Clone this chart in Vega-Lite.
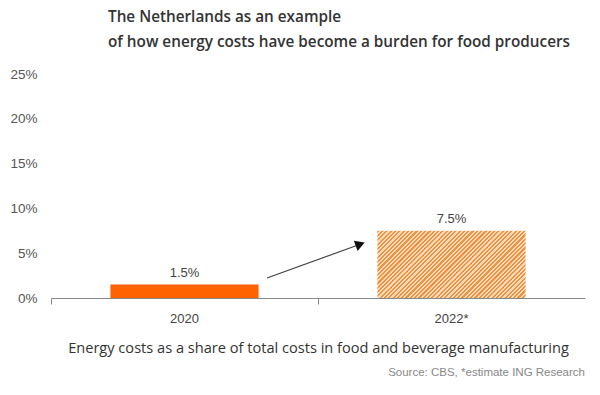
{
  "$schema": "https://vega.github.io/schema/vega-lite/v6.json",
  "width": 534,
  "height": 224,
  "autosize": "none",
  "padding": {"left": 51, "top": 74, "right": 15, "bottom": 97},
  "background": "white",
  "title": {
    "text": ["The Netherlands as an example", "of how energy costs have become a burden for food producers"],
    "anchor": "start",
    "frame": "group",
    "dx": 57,
    "offset": 17,
    "font": "Open Sans",
    "fontSize": 15.3,
    "fontWeight": 600,
    "color": "#333333",
    "lineHeight": 25
  },
  "config": {
    "view": {"stroke": null},
    "axis": {"grid": false}
  },
  "datasets": {
    "bars": [
      {"year": "2020", "share": 1.5, "label": "1.5%"},
      {"year": "2022*", "share": 7.5, "label": "7.5%"}
    ],
    "arrow": [
      {"px": 0.809, "py": 2.23},
      {"px": 1.158, "py": 6.0}
    ],
    "head": [
      {"px": 1.158, "py": 6.0}
    ],
    "source": [
      {"px": 2, "py": -8.4, "text": "Source: CBS, *estimate ING Research"}
    ]
  },
  "resolve": {"scale": {"x": "independent"}, "axis": {"x": "independent"}},
  "layer": [
    {
      "layer": [
        {
          "data": {"name": "bars"},
          "transform": [{"filter": "datum.year === '2020'"}],
          "mark": {"type": "bar", "color": "#FF6200", "width": {"band": 0.555}},
          "encoding": {
            "x": {"field": "year", "type": "nominal"},
            "y": {"field": "share", "type": "quantitative"}
          }
        },
        {
          "data": {"name": "bars"},
          "transform": [{"filter": "datum.year === '2022*'"}],
          "mark": {
            "type": "bar",
            "width": {"band": 0.555},
            "fill": {
              "gradient": "linear",
              "x1": 0, "y1": 0, "x2": 1.2055, "y2": 0.5466,
              "stops": [
                {"offset": 0.00, "color": "#F0913F"}, {"offset": 0.01, "color": "#F0913F"}, {"offset": 0.01, "color": "#FDDDBE"}, {"offset": 0.02, "color": "#FDDDBE"},
                {"offset": 0.02, "color": "#F0913F"}, {"offset": 0.03, "color": "#F0913F"}, {"offset": 0.03, "color": "#FDDDBE"}, {"offset": 0.04, "color": "#FDDDBE"},
                {"offset": 0.04, "color": "#F0913F"}, {"offset": 0.05, "color": "#F0913F"}, {"offset": 0.05, "color": "#FDDDBE"}, {"offset": 0.06, "color": "#FDDDBE"},
                {"offset": 0.06, "color": "#F0913F"}, {"offset": 0.07, "color": "#F0913F"}, {"offset": 0.07, "color": "#FDDDBE"}, {"offset": 0.08, "color": "#FDDDBE"},
                {"offset": 0.08, "color": "#F0913F"}, {"offset": 0.09, "color": "#F0913F"}, {"offset": 0.09, "color": "#FDDDBE"}, {"offset": 0.10, "color": "#FDDDBE"},
                {"offset": 0.10, "color": "#F0913F"}, {"offset": 0.11, "color": "#F0913F"}, {"offset": 0.11, "color": "#FDDDBE"}, {"offset": 0.12, "color": "#FDDDBE"},
                {"offset": 0.12, "color": "#F0913F"}, {"offset": 0.13, "color": "#F0913F"}, {"offset": 0.13, "color": "#FDDDBE"}, {"offset": 0.14, "color": "#FDDDBE"},
                {"offset": 0.14, "color": "#F0913F"}, {"offset": 0.15, "color": "#F0913F"}, {"offset": 0.15, "color": "#FDDDBE"}, {"offset": 0.16, "color": "#FDDDBE"},
                {"offset": 0.16, "color": "#F0913F"}, {"offset": 0.17, "color": "#F0913F"}, {"offset": 0.17, "color": "#FDDDBE"}, {"offset": 0.18, "color": "#FDDDBE"},
                {"offset": 0.18, "color": "#F0913F"}, {"offset": 0.19, "color": "#F0913F"}, {"offset": 0.19, "color": "#FDDDBE"}, {"offset": 0.20, "color": "#FDDDBE"},
                {"offset": 0.20, "color": "#F0913F"}, {"offset": 0.21, "color": "#F0913F"}, {"offset": 0.21, "color": "#FDDDBE"}, {"offset": 0.22, "color": "#FDDDBE"},
                {"offset": 0.22, "color": "#F0913F"}, {"offset": 0.23, "color": "#F0913F"}, {"offset": 0.23, "color": "#FDDDBE"}, {"offset": 0.24, "color": "#FDDDBE"},
                {"offset": 0.24, "color": "#F0913F"}, {"offset": 0.25, "color": "#F0913F"}, {"offset": 0.25, "color": "#FDDDBE"}, {"offset": 0.26, "color": "#FDDDBE"},
                {"offset": 0.26, "color": "#F0913F"}, {"offset": 0.27, "color": "#F0913F"}, {"offset": 0.27, "color": "#FDDDBE"}, {"offset": 0.28, "color": "#FDDDBE"},
                {"offset": 0.28, "color": "#F0913F"}, {"offset": 0.29, "color": "#F0913F"}, {"offset": 0.29, "color": "#FDDDBE"}, {"offset": 0.30, "color": "#FDDDBE"},
                {"offset": 0.30, "color": "#F0913F"}, {"offset": 0.31, "color": "#F0913F"}, {"offset": 0.31, "color": "#FDDDBE"}, {"offset": 0.32, "color": "#FDDDBE"},
                {"offset": 0.32, "color": "#F0913F"}, {"offset": 0.33, "color": "#F0913F"}, {"offset": 0.33, "color": "#FDDDBE"}, {"offset": 0.34, "color": "#FDDDBE"},
                {"offset": 0.34, "color": "#F0913F"}, {"offset": 0.35, "color": "#F0913F"}, {"offset": 0.35, "color": "#FDDDBE"}, {"offset": 0.36, "color": "#FDDDBE"},
                {"offset": 0.36, "color": "#F0913F"}, {"offset": 0.37, "color": "#F0913F"}, {"offset": 0.37, "color": "#FDDDBE"}, {"offset": 0.38, "color": "#FDDDBE"},
                {"offset": 0.38, "color": "#F0913F"}, {"offset": 0.39, "color": "#F0913F"}, {"offset": 0.39, "color": "#FDDDBE"}, {"offset": 0.40, "color": "#FDDDBE"},
                {"offset": 0.40, "color": "#F0913F"}, {"offset": 0.41, "color": "#F0913F"}, {"offset": 0.41, "color": "#FDDDBE"}, {"offset": 0.42, "color": "#FDDDBE"},
                {"offset": 0.42, "color": "#F0913F"}, {"offset": 0.43, "color": "#F0913F"}, {"offset": 0.43, "color": "#FDDDBE"}, {"offset": 0.44, "color": "#FDDDBE"},
                {"offset": 0.44, "color": "#F0913F"}, {"offset": 0.45, "color": "#F0913F"}, {"offset": 0.45, "color": "#FDDDBE"}, {"offset": 0.46, "color": "#FDDDBE"},
                {"offset": 0.46, "color": "#F0913F"}, {"offset": 0.47, "color": "#F0913F"}, {"offset": 0.47, "color": "#FDDDBE"}, {"offset": 0.48, "color": "#FDDDBE"},
                {"offset": 0.48, "color": "#F0913F"}, {"offset": 0.49, "color": "#F0913F"}, {"offset": 0.49, "color": "#FDDDBE"}, {"offset": 0.50, "color": "#FDDDBE"},
                {"offset": 0.50, "color": "#F0913F"}, {"offset": 0.51, "color": "#F0913F"}, {"offset": 0.51, "color": "#FDDDBE"}, {"offset": 0.52, "color": "#FDDDBE"},
                {"offset": 0.52, "color": "#F0913F"}, {"offset": 0.53, "color": "#F0913F"}, {"offset": 0.53, "color": "#FDDDBE"}, {"offset": 0.54, "color": "#FDDDBE"},
                {"offset": 0.54, "color": "#F0913F"}, {"offset": 0.55, "color": "#F0913F"}, {"offset": 0.55, "color": "#FDDDBE"}, {"offset": 0.56, "color": "#FDDDBE"},
                {"offset": 0.56, "color": "#F0913F"}, {"offset": 0.57, "color": "#F0913F"}, {"offset": 0.57, "color": "#FDDDBE"}, {"offset": 0.58, "color": "#FDDDBE"},
                {"offset": 0.58, "color": "#F0913F"}, {"offset": 0.59, "color": "#F0913F"}, {"offset": 0.59, "color": "#FDDDBE"}, {"offset": 0.60, "color": "#FDDDBE"},
                {"offset": 0.60, "color": "#F0913F"}, {"offset": 0.61, "color": "#F0913F"}, {"offset": 0.61, "color": "#FDDDBE"}, {"offset": 0.62, "color": "#FDDDBE"},
                {"offset": 0.62, "color": "#F0913F"}, {"offset": 0.63, "color": "#F0913F"}, {"offset": 0.63, "color": "#FDDDBE"}, {"offset": 0.64, "color": "#FDDDBE"},
                {"offset": 0.64, "color": "#F0913F"}, {"offset": 0.65, "color": "#F0913F"}, {"offset": 0.65, "color": "#FDDDBE"}, {"offset": 0.66, "color": "#FDDDBE"},
                {"offset": 0.66, "color": "#F0913F"}, {"offset": 0.67, "color": "#F0913F"}, {"offset": 0.67, "color": "#FDDDBE"}, {"offset": 0.68, "color": "#FDDDBE"},
                {"offset": 0.68, "color": "#F0913F"}, {"offset": 0.69, "color": "#F0913F"}, {"offset": 0.69, "color": "#FDDDBE"}, {"offset": 0.70, "color": "#FDDDBE"},
                {"offset": 0.70, "color": "#F0913F"}, {"offset": 0.71, "color": "#F0913F"}, {"offset": 0.71, "color": "#FDDDBE"}, {"offset": 0.72, "color": "#FDDDBE"},
                {"offset": 0.72, "color": "#F0913F"}, {"offset": 0.73, "color": "#F0913F"}, {"offset": 0.73, "color": "#FDDDBE"}, {"offset": 0.74, "color": "#FDDDBE"},
                {"offset": 0.74, "color": "#F0913F"}, {"offset": 0.75, "color": "#F0913F"}, {"offset": 0.75, "color": "#FDDDBE"}, {"offset": 0.76, "color": "#FDDDBE"},
                {"offset": 0.76, "color": "#F0913F"}, {"offset": 0.77, "color": "#F0913F"}, {"offset": 0.77, "color": "#FDDDBE"}, {"offset": 0.78, "color": "#FDDDBE"},
                {"offset": 0.78, "color": "#F0913F"}, {"offset": 0.79, "color": "#F0913F"}, {"offset": 0.79, "color": "#FDDDBE"}, {"offset": 0.80, "color": "#FDDDBE"},
                {"offset": 0.80, "color": "#F0913F"}, {"offset": 0.81, "color": "#F0913F"}, {"offset": 0.81, "color": "#FDDDBE"}, {"offset": 0.82, "color": "#FDDDBE"},
                {"offset": 0.82, "color": "#F0913F"}, {"offset": 0.83, "color": "#F0913F"}, {"offset": 0.83, "color": "#FDDDBE"}, {"offset": 0.84, "color": "#FDDDBE"},
                {"offset": 0.84, "color": "#F0913F"}, {"offset": 0.85, "color": "#F0913F"}, {"offset": 0.85, "color": "#FDDDBE"}, {"offset": 0.86, "color": "#FDDDBE"},
                {"offset": 0.86, "color": "#F0913F"}, {"offset": 0.87, "color": "#F0913F"}, {"offset": 0.87, "color": "#FDDDBE"}, {"offset": 0.88, "color": "#FDDDBE"},
                {"offset": 0.88, "color": "#F0913F"}, {"offset": 0.89, "color": "#F0913F"}, {"offset": 0.89, "color": "#FDDDBE"}, {"offset": 0.90, "color": "#FDDDBE"},
                {"offset": 0.90, "color": "#F0913F"}, {"offset": 0.91, "color": "#F0913F"}, {"offset": 0.91, "color": "#FDDDBE"}, {"offset": 0.92, "color": "#FDDDBE"},
                {"offset": 0.92, "color": "#F0913F"}, {"offset": 0.93, "color": "#F0913F"}, {"offset": 0.93, "color": "#FDDDBE"}, {"offset": 0.94, "color": "#FDDDBE"},
                {"offset": 0.94, "color": "#F0913F"}, {"offset": 0.95, "color": "#F0913F"}, {"offset": 0.95, "color": "#FDDDBE"}, {"offset": 0.96, "color": "#FDDDBE"},
                {"offset": 0.96, "color": "#F0913F"}, {"offset": 0.97, "color": "#F0913F"}, {"offset": 0.97, "color": "#FDDDBE"}, {"offset": 0.98, "color": "#FDDDBE"},
                {"offset": 0.98, "color": "#F0913F"}, {"offset": 0.99, "color": "#F0913F"}, {"offset": 0.99, "color": "#FDDDBE"}, {"offset": 1.00, "color": "#FDDDBE"}
              ]
            }
          },
          "encoding": {
            "x": {"field": "year", "type": "nominal"},
            "y": {"field": "share", "type": "quantitative"}
          }
        },
        {
          "data": {"name": "bars"},
          "mark": {"type": "text", "baseline": "bottom", "dy": -5, "font": "Liberation Sans", "fontSize": 13, "color": "#444444"},
          "encoding": {
            "x": {"field": "year", "type": "nominal"},
            "y": {"field": "share", "type": "quantitative"},
            "text": {"field": "label"}
          }
        }
      ],
      "encoding": {
        "x": {
          "field": "year",
          "type": "nominal",
          "sort": null,
          "scale": {"paddingInner": 0, "paddingOuter": 0},
          "axis": {
            "title": "Energy costs as a share of total costs in food and beverage manufacturing",
            "titleFont": "Open Sans",
            "titleFontSize": 14.6,
            "titleFontWeight": "normal",
            "titleColor": "#333333",
            "titlePadding": 15,
            "labelAngle": 0,
            "labelFont": "Liberation Sans",
            "labelFontSize": 13,
            "labelColor": "#444444",
            "labelPadding": 8,
            "bandPosition": 0,
            "domainColor": "#888888",
            "tickColor": "#888888",
            "tickSize": 6
          }
        },
        "y": {
          "field": "share",
          "type": "quantitative",
          "scale": {"domain": [0, 25], "nice": false, "zero": false},
          "axis": {
            "title": null,
            "values": [0, 5, 10, 15, 20, 25],
            "labelExpr": "datum.value + '%'",
            "domain": false,
            "ticks": false,
            "labelPadding": 14,
            "labelFont": "Liberation Sans",
            "labelFontSize": 13.5,
            "labelColor": "#555555"
          }
        }
      }
    },
    {
      "data": {"name": "arrow"},
      "mark": {"type": "line", "color": "#444444", "strokeWidth": 1.2},
      "encoding": {
        "x": {"field": "px", "type": "quantitative", "scale": {"domain": [0, 2]}, "axis": null},
        "y": {"field": "py", "type": "quantitative", "scale": {"domain": [0, 25], "nice": false, "zero": false}}
      }
    },
    {
      "data": {"name": "head"},
      "mark": {"type": "point", "shape": "triangle-up", "filled": true, "color": "#111111", "size": 120, "angle": 70, "opacity": 1},
      "encoding": {
        "x": {"field": "px", "type": "quantitative", "scale": {"domain": [0, 2]}, "axis": null},
        "y": {"field": "py", "type": "quantitative", "scale": {"domain": [0, 25], "nice": false, "zero": false}}
      }
    },
    {
      "data": {"name": "source"},
      "mark": {"type": "text", "align": "right", "baseline": "middle", "font": "Liberation Sans", "fontSize": 11.5, "color": "#888888"},
      "encoding": {
        "x": {"field": "px", "type": "quantitative", "scale": {"domain": [0, 2]}, "axis": null},
        "y": {"field": "py", "type": "quantitative", "scale": {"domain": [0, 25], "nice": false, "zero": false}},
        "text": {"field": "text"}
      }
    }
  ]
}
